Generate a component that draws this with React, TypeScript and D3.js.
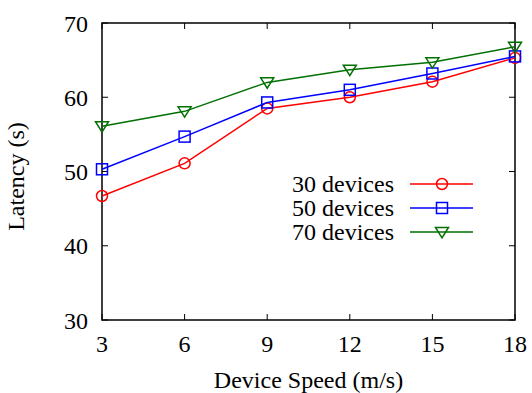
import * as d3 from "d3";

const speeds = [3, 6, 9, 12, 15, 18];
const devices30 = [46.7, 51.1, 58.5, 60.0, 62.1, 65.3];
const devices50 = [50.3, 54.7, 59.3, 61.0, 63.2, 65.5];
const devices70 = [56.1, 58.1, 62.0, 63.7, 64.7, 66.8];
const yTicks = [30, 40, 50, 60, 70];
const seriesNames = ["30 devices", "50 devices", "70 devices"];

const W = 532;
const H = 393;
const MARGIN = { top: 23, right: 17, bottom: 73, left: 102 };
const FONT = '"Liberation Serif", "Times New Roman", serif';
const FS = 24;

type Marker = "circle" | "square" | "triangle";

const series = [
  { name: seriesNames[0], values: devices30, color: "#ff0000", marker: "circle" as Marker },
  { name: seriesNames[1], values: devices50, color: "#0000ff", marker: "square" as Marker },
  { name: seriesNames[2], values: devices70, color: "#007000", marker: "triangle" as Marker },
];

const MarkerShape = ({ type, x, y, color }: { type: Marker; x: number; y: number; color: string }) => {
  if (type === "circle") {
    return <circle cx={x} cy={y} r={5.5} fill="none" stroke={color} strokeWidth={1.5} />;
  }
  if (type === "square") {
    return <rect x={x - 5.5} y={y - 5.5} width={11} height={11} fill="none" stroke={color} strokeWidth={1.5} />;
  }
  const s = 6.5;
  return (
    <path
      d={`M${x - s},${y - s * 0.7} L${x + s},${y - s * 0.7} L${x},${y + s * 0.9} Z`}
      fill="none"
      stroke={color}
      strokeWidth={1.5}
    />
  );
};

export default function App() {
  const bw = W - MARGIN.left - MARGIN.right;
  const bh = H - MARGIN.top - MARGIN.bottom;
  const x = d3.scaleLinear().domain([3, 18]).range([0, bw]);
  const y = d3.scaleLinear().domain([30, 70]).range([bh, 0]);

  const line = d3
    .line<number>()
    .x((_, i) => x(speeds[i]))
    .y((d) => y(d));

  const tick = 6;

  return (
    <svg
      width={W}
      height={H}
      style={{ position: "absolute", left: 0, top: 0, fontFamily: FONT }}
    >
      <rect width={W} height={H} fill="white" />
      <g transform={`translate(${MARGIN.left},${MARGIN.top})`}>
        {/* ticks, mirrored on all four sides */}
        {speeds.map((s) => (
          <g key={"xt" + s}>
            <line x1={x(s)} x2={x(s)} y1={bh} y2={bh - tick} stroke="black" strokeWidth={1} />
            <line x1={x(s)} x2={x(s)} y1={0} y2={tick} stroke="black" strokeWidth={1} />
            <text x={x(s)} y={bh + 32} textAnchor="middle" fontSize={FS}>
              {s}
            </text>
          </g>
        ))}
        {yTicks.map((t) => (
          <g key={"yt" + t}>
            <line x1={0} x2={tick} y1={y(t)} y2={y(t)} stroke="black" strokeWidth={1} />
            <line x1={bw} x2={bw - tick} y1={y(t)} y2={y(t)} stroke="black" strokeWidth={1} />
            <text x={-14} y={y(t) + 8.5} textAnchor="end" fontSize={FS}>
              {t}
            </text>
          </g>
        ))}
        <rect x={0} y={0} width={bw} height={bh} fill="none" stroke="black" strokeWidth={1.5} />

        {series.map((s) => (
          <g key={s.name}>
            <path d={line(s.values) || ""} fill="none" stroke={s.color} strokeWidth={1.5} />
            {s.values.map((v, i) => (
              <MarkerShape key={i} type={s.marker} x={x(speeds[i])} y={y(v)} color={s.color} />
            ))}
          </g>
        ))}

        {/* legend */}
        {series.map((s, i) => {
          const ly = 161 + i * 24;
          return (
            <g key={"lg" + s.name}>
              <text x={292} y={ly + 8} textAnchor="end" fontSize={FS}>
                {s.name}
              </text>
              <line x1={308} x2={371} y1={ly} y2={ly} stroke={s.color} strokeWidth={1.5} />
              <MarkerShape type={s.marker} x={340} y={ly} color={s.color} />
            </g>
          );
        })}
      </g>
      <text x={MARGIN.left + bw / 2} y={388} textAnchor="middle" fontSize={FS}>
        Device Speed (m/s)
      </text>
      <text
        transform={`translate(24,${MARGIN.top + bh / 2 + 5}) rotate(-90)`}
        textAnchor="middle"
        fontSize={FS}
      >
        Latency (s)
      </text>
    </svg>
  );
}
